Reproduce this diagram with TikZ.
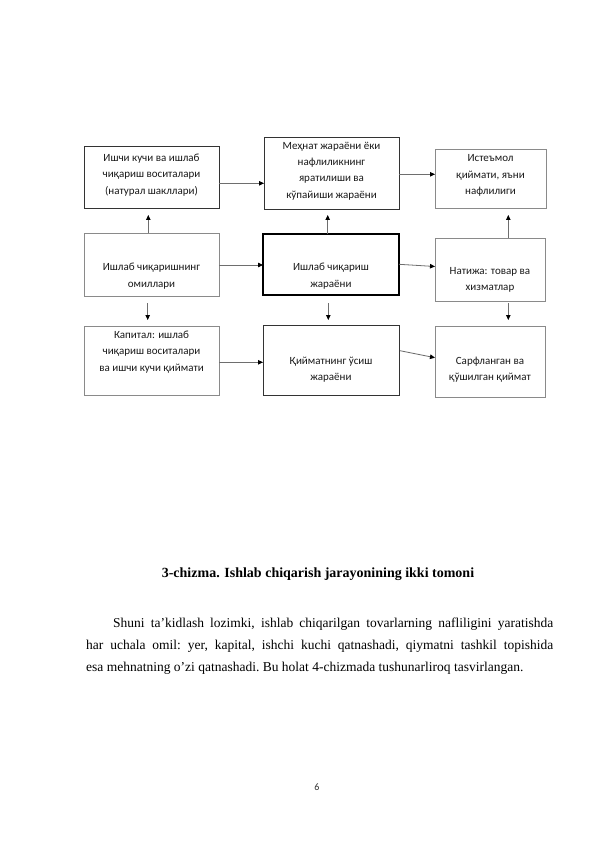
\documentclass[tikz,border=0pt]{standalone}
\usepackage{fontspec}
\setmainfont{Liberation Serif}
\newfontfamily\boxfont{Carlito}
\usetikzlibrary{arrows.meta,calc}
\definecolor{darkedge}{HTML}{333333}
\definecolor{lightedge}{HTML}{8A8A8A}
\definecolor{arrowline}{HTML}{6E6E6E}
\tikzset{
  box/.style={draw=darkedge,line width=0.6pt,inner sep=0pt,fill=white},
  lbox/.style={draw=lightedge,line width=0.9pt,inner sep=0pt,fill=white},
  mainbox/.style={draw=black,line width=1.8pt,inner sep=0pt,fill=white},
  txt/.style={align=center,inner sep=0pt,text=black!90,font=\boxfont\fontsize{11}{16.3}\selectfont},
  conn/.style={draw=arrowline,line width=0.8pt,-{Triangle[length=5pt,width=4.5pt,color=black]}},
}
\begin{document}
\begin{tikzpicture}[x=1pt,y=-1pt]
\useasboundingbox (0,0) rectangle (596,842);
\fill[white] (0,0) rectangle (596,842);
% boxes
\node[box, minimum width=135pt, minimum height=62pt] (b1) at (151.5,177) {};
\node[box, minimum width=135pt, minimum height=72pt] (b2) at (331.5,173) {};
\node[lbox, minimum width=111pt, minimum height=59pt] (b3) at (490.5,178.5) {};
\node[lbox, minimum width=135pt, minimum height=63pt] (b4) at (151.5,264.5) {};
\node[mainbox, minimum width=136pt, minimum height=61pt] (b5) at (331,264.5) {};
\node[lbox, minimum width=110pt, minimum height=63pt] (b6) at (490,269.5) {};
\node[lbox, minimum width=135pt, minimum height=69pt] (b7) at (151.5,360.5) {};
\node[box, minimum width=136pt, minimum height=70pt] (b8) at (331,360) {};
\node[lbox, minimum width=110pt, minimum height=71pt] (b9) at (490,361.5) {};
% texts
\node[txt] (t1) at (151.5,175) {Ишчи кучи ва ишлаб\\чиқариш воситалари\\(натурал шакллари)};
\node[txt] (t2) at (331.5,171) {Меҳнат жараёни ёки\\нафлиликнинг\\яратилиши ва\\кўпайиши жараёни};
\node[txt] (t3) at (490.5,175.5) {Истеъмол\\қиймати, яъни\\нафлилиги};
\node[txt] (t4) at (151.5,276) {Ишлаб чиқаришнинг\\омиллари};
\node[txt] (t5) at (331,276) {Ишлаб чиқариш\\жараёни};
\node[txt] (t6) at (490,280) {Натижа: товар ва\\хизматлар};
\node[txt] (t7) at (151.5,352) {Капитал: ишлаб\\чиқариш воситалари\\ва ишчи кучи қиймати};
\node[txt] (t8) at (331,370) {Қийматнинг ўсиш\\жараёни};
\node[txt] (t9) at (490,369.5) {Сарфланган ва\\қўшилган қиймат};
% arrow endpoints
\coordinate (a1s) at (219,183.3); \coordinate (a1e) at (264,183.3);
\coordinate (a2s) at (399,174.3); \coordinate (a2e) at (435,174.3);
\coordinate (a3s) at (148.3,233); \coordinate (a3e) at (148.3,215);
\coordinate (a4s) at (327.7,234); \coordinate (a4e) at (327.7,215);
\coordinate (a5s) at (508.3,238); \coordinate (a5e) at (508.3,215);
\coordinate (a6s) at (219,265); \coordinate (a6e) at (263,265);
\coordinate (a7s) at (399,264.3); \coordinate (a7e) at (435,266.5);
\coordinate (a8s) at (147.7,303); \coordinate (a8e) at (147.7,320);
\coordinate (a9s) at (328.3,303); \coordinate (a9e) at (328.3,320);
\coordinate (a10s) at (508.3,303); \coordinate (a10e) at (508.3,320);
\coordinate (a11s) at (219,362.3); \coordinate (a11e) at (263,362.3);
\coordinate (a12s) at (400,350.7); \coordinate (a12e) at (435,357.7);
\foreach \i in {1,...,12} {\draw[conn] (a\i s) -- (a\i e);}
% caption and body
\node[font=\bfseries\fontsize{14}{16}\selectfont, inner sep=0pt] (cap) at (318,574) {3-chizma. Ishlab chiqarish jarayonining ikki tomoni};
\node[anchor=north west, inner sep=0pt, text width=467pt, align=justify, font=\fontsize{13.5}{21.7}\selectfont] (body) at (86,618)
 {\frenchspacing\hspace*{27pt}Shuni ta’kidlash lozimki, ishlab chiqarilgan tovarlarning nafliligini yaratishda\linebreak har uchala omil: yer, kapital, ishchi kuchi qatnashadi, qiymatni tashkil topishida\linebreak esa mehnatning o’zi qatnashadi. Bu holat 4-chizmada tushunarliroq tasvirlangan.};
\node[font=\boxfont\fontsize{10}{12}\selectfont, text=black!80, inner sep=0pt] (pg) at (317,787) {6};
\end{tikzpicture}
\end{document}
